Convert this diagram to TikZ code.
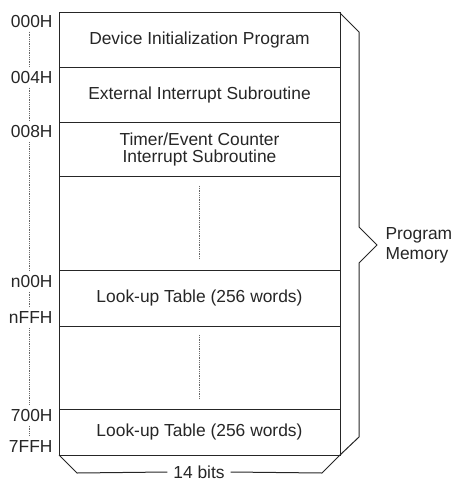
\documentclass[tikz,border=0pt]{standalone}
\usepackage{fontspec}
\setmainfont{Liberation Sans}
\usetikzlibrary{positioning}

\begin{document}
\begin{tikzpicture}[x=1pt,y=-1pt,line width=1pt,color=black!85,
  every node/.style={font=\fontsize{17.4}{17}\selectfont},
  row/.style={draw,minimum width=281pt,outer sep=0pt,inner sep=0pt,align=center},
  addr/.style={anchor=east,text height=12.5pt,text depth=0pt,inner xsep=0pt,inner ysep=4pt},
  dotline/.style={line width=0.7pt,dash pattern=on 0.7pt off 1.1pt,black!60}]
  \useasboundingbox (0,0) rectangle (452,481);
  \node[row,minimum height=55pt] (r0) at (199.5,40.5) {Device Initialization Program};
  \node[row,minimum height=55pt] (r1) [below=0pt of r0] {External Interrupt Subroutine};
  \node[row,minimum height=53pt] (r2) [below=0pt of r1] {Timer/Event Counter\\Interrupt Subroutine};
  \node[row,minimum height=94pt] (r3) [below=0pt of r2] {};
  \node[row,minimum height=56pt] (r4) [below=0pt of r3] {Look-up Table (256 words)};
  \node[row,minimum height=83pt] (r5) [below=0pt of r4] {};
  \node[row,minimum height=46pt] (r6) [below=0pt of r5] {Look-up Table (256 words)};
  \draw[dotline] ([yshift=-10pt]r3.north) -- ([yshift=11pt]r3.south);
  \draw[dotline] ([yshift=-9pt]r5.north) -- ([yshift=10pt]r5.south);
  % addresses
  \node[addr] (a0) at (53,21) {000H};
  \node[addr] (a1) at (53,77) {004H};
  \node[addr] (a2) at (53,131.5) {008H};
  \node[addr] (a3) at (53,281) {n00H};
  \node[addr] (a4) at (53,317.5) {nFFH};
  \node[addr] (a5) at (53,415) {700H};
  \node[addr] (a6) at (53,446) {7FFH};
  \coordinate (dx) at (29,0);
  \foreach \i/\j in {a0/a1,a1/a2,a2/a3,a3/a4,a4/a5,a5/a6}
    \draw[dotline] (\i.south -| dx) -- (\j.north -| dx);
  % braces
  \node[anchor=west,align=left,inner sep=0pt,font=\fontsize{17.4}{20}\selectfont] (pm) at (385,245) {Program\\Memory};
  \draw (r0.north east) -- ++(19,19) -- (359,227) -- (377,245) -- (359,263)
    -- (359,437) -- (r6.south east);
  \node[inner xsep=5.5pt,inner ysep=1pt] (bits) at (199,472) {14 bits};
  \draw (r6.south west) -- ++(18,18) -- (bits.west);
  \draw (bits.east) -- (322,473) -- (r6.south east);
\end{tikzpicture}
\end{document}
